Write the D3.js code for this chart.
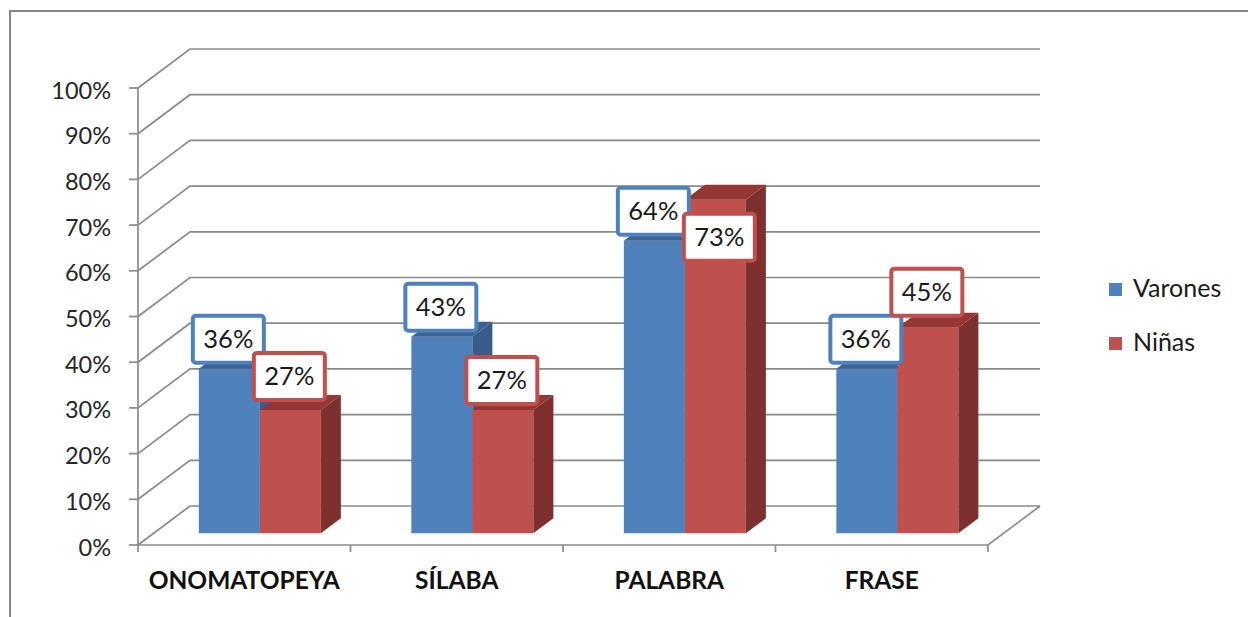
<!DOCTYPE html>
<html>
<head>
<meta charset="utf-8">
<script src="https://cdn.jsdelivr.net/npm/d3@7"></script>
<style>
  html, body { margin: 0; padding: 0; background: #fff; }
  svg { display: block; font-family: Lato, 'Open Sans', sans-serif; }
</style>
</head>
<body>
<div class="svg-container"></div>
<script>
const categories = ['ONOMATOPEYA', 'SÍLABA', 'PALABRA', 'FRASE']
const series = ['Varones', 'Niñas']
const varones = [0.36, 0.43, 0.64, 0.36]
const ninas = [0.27, 0.27, 0.73, 0.45]
const yTickValues = [0, 0.1, 0.2, 0.3, 0.4, 0.5, 0.6, 0.7, 0.8, 0.9, 1]

const values = { Varones: varones, 'Niñas': ninas }

const width = 1248
const height = 617

// front plane of the 3d box and how far back the wall sits
const plot = { left: 138, right: 988, bottom: 545, top: 88 }
const depth = { dx: 52, dy: -39 }
const barDepth = [0.3, 0.685]

const colors = {
  Varones: { front: '#4f81bd', top: '#3b6290', side: '#385d8a' },
  'Niñas': { front: '#c0504d', top: '#953735', side: '#7e302e' }
}
const gridColor = '#8a8a8a'

// a few labels were moved by hand in the original
const labelNudge = {
  'ONOMATOPEYA|Niñas': { dx: 0, dy: -4 },
  'PALABRA|Niñas': { dx: 5, dy: 67 },
  'FRASE|Niñas': { dx: 0, dy: -6 }
}

const svg = d3.select('.svg-container')
  .append('svg')
  .attr('width', width)
  .attr('height', height)

svg.append('rect')
  .attr('x', 10)
  .attr('y', 11)
  .attr('width', 1400)
  .attr('height', 800)
  .attr('fill', 'none')
  .attr('stroke', '#868686')
  .attr('stroke-width', 2)

const x = d3.scaleBand()
  .domain(categories)
  .range([plot.left, plot.right])

const y = d3.scaleLinear()
  .domain([0, 1])
  .range([plot.bottom, plot.top])

const inner = d3.scaleBand()
  .domain(series)
  .range([-61, 61])

const proj = (px, v, t) => [px + depth.dx * t, y(v) + depth.dy * t]
const line = d3.line()

// side wall + back wall grid
svg.append('g')
  .selectAll('path')
  .data(yTickValues)
  .join('path')
    .attr('d', v => line([proj(plot.left, v, 0), proj(plot.left, v, 1), proj(plot.right, v, 1)]))
    .attr('fill', 'none')
    .attr('stroke', gridColor)
    .attr('stroke-width', 1.7)

// floor
svg.append('path')
  .attr('d', line([proj(plot.left, 0, 0), proj(plot.right, 0, 0), proj(plot.right, 0, 1)]))
  .attr('fill', 'none')
  .attr('stroke', gridColor)
  .attr('stroke-width', 1.7)

// y axis
const yAxis = svg.append('g')
yAxis.append('path')
  .attr('d', line([[plot.left, plot.top], [plot.left, plot.bottom + 7]]))
  .attr('stroke', gridColor)
  .attr('stroke-width', 1.7)
yAxis.selectAll('line')
  .data(yTickValues)
  .join('line')
    .attr('x1', plot.left - 9)
    .attr('x2', plot.left)
    .attr('y1', d => y(d))
    .attr('y2', d => y(d))
    .attr('stroke', gridColor)
    .attr('stroke-width', 1.7)
yAxis.selectAll('text')
  .data(yTickValues)
  .join('text')
    .attr('x', 111)
    .attr('y', d => y(d) + 10.5)
    .attr('text-anchor', 'end')
    .attr('font-size', 23.5)
    .attr('fill', '#262626')
    .text(d3.format('.0%'))

// x axis ticks and labels
svg.append('g')
  .selectAll('line')
  .data(categories)
  .join('line')
    .attr('x1', d => x(d) + x.bandwidth())
    .attr('x2', d => x(d) + x.bandwidth())
    .attr('y1', plot.bottom)
    .attr('y2', plot.bottom + 7)
    .attr('stroke', gridColor)
    .attr('stroke-width', 1.7)

svg.append('g')
  .selectAll('text')
  .data(categories)
  .join('text')
    .attr('x', d => x(d) + x.bandwidth() / 2)
    .attr('y', 589)
    .attr('text-anchor', 'middle')
    .attr('font-size', 24.5)
    .attr('font-weight', 'bold')
    .attr('fill', '#111')
    .text(d => d)

// bars
const bars = categories.flatMap((c, i) => series.map(s => {
  const px0 = x(c) + x.bandwidth() / 2 + inner(s)
  return { category: c, series: s, value: values[s][i], px0, px1: px0 + inner.bandwidth() }
}))

const [t0, t1] = barDepth
const barGroups = svg.append('g')
  .selectAll('g')
  .data(bars)
  .join('g')

barGroups.append('path')
  .attr('d', d => line([proj(d.px0, 0, t0), proj(d.px1, 0, t0), proj(d.px1, d.value, t0), proj(d.px0, d.value, t0)]) + 'Z')
  .attr('fill', d => colors[d.series].front)

barGroups.append('path')
  .attr('d', d => line([proj(d.px0, d.value, t0), proj(d.px1, d.value, t0), proj(d.px1, d.value, t1), proj(d.px0, d.value, t1)]) + 'Z')
  .attr('fill', d => colors[d.series].top)

barGroups.append('path')
  .attr('d', d => line([proj(d.px1, 0, t0), proj(d.px1, 0, t1), proj(d.px1, d.value, t1), proj(d.px1, d.value, t0)]) + 'Z')
  .attr('fill', d => colors[d.series].side)

// data labels
const boxW = 71
const boxH = 47
const labels = svg.append('g')
  .selectAll('g')
  .data(bars)
  .join('g')
    .attr('transform', d => {
      const nudge = labelNudge[`${d.category}|${d.series}`] || { dx: 0, dy: 0 }
      const [fx, fy] = proj((d.px0 + d.px1) / 2, d.value, t0)
      return `translate(${fx - 1 + nudge.dx}, ${fy - 6 - boxH / 2 + nudge.dy})`
    })

labels.append('rect')
  .attr('x', -boxW / 2)
  .attr('y', -boxH / 2)
  .attr('width', boxW)
  .attr('height', boxH)
  .attr('rx', 3)
  .attr('fill', '#fff')
  .attr('stroke', d => colors[d.series].front)
  .attr('stroke-width', 4)

labels.append('text')
  .attr('y', 9)
  .attr('text-anchor', 'middle')
  .attr('font-size', 25.5)
  .attr('fill', '#1a1a1a')
  .text(d => d3.format('.0%')(d.value))

// legend
const legend = svg.append('g')
  .attr('transform', 'translate(1109, 283)')
  .selectAll('g')
  .data(series)
  .join('g')
    .attr('transform', (d, i) => `translate(0, ${i * 54})`)

legend.append('rect')
  .attr('width', 13)
  .attr('height', 13)
  .attr('fill', d => colors[d].front)

legend.append('text')
  .attr('x', 24)
  .attr('y', 14)
  .attr('font-size', 25)
  .attr('fill', '#1a1a1a')
  .text(d => d)
</script>
</body>
</html>
